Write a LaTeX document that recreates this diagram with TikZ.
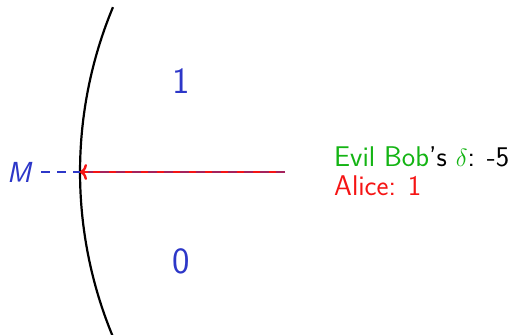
\documentclass[tikz,border=0pt]{standalone}
\usepackage{fontspec}
\usetikzlibrary{arrows.meta}
\definecolor{myblue}{RGB}{45,55,200}
\definecolor{mygreen}{RGB}{20,180,20}
\definecolor{myred}{RGB}{245,20,20}
\begin{document}
\begin{tikzpicture}[x=1pt,y=-1pt,
  lbl/.style={font=\fontsize{28.5}{32}\selectfont\sffamily, inner sep=0pt},
  big/.style={font=\fontsize{37}{42}\selectfont\sffamily, text=myblue, inner sep=0pt}]
\useasboundingbox (0,0) rectangle (510,334);
\coordinate (C) at (509,172);
\coordinate (hit) at (80,172);
\coordinate (src) at (285,172);
\draw[line width=2.2pt, black] (C) ++(157.4:429) arc[start angle=157.4, end angle=202.6, radius=429];
\node[lbl, text=myblue, font=\fontsize{29}{32}\selectfont\sffamily\itshape] (M) at (19,172) {M};
\draw[myblue, line width=2.2pt, dash pattern=on 9pt off 7pt] (M.east) ++(10,0) -- (hit);
\draw[myred, line width=2.7pt, -{To[length=7pt,width=16pt,line width=2.4pt]}] (src) -- (hit);
\draw[myblue, opacity=0.4, line width=1.5pt, dash pattern=on 9pt off 7pt] (src) -- ([xshift=8pt]hit);
\node[big] (one) at (181,81) {1};
\node[big] (zero) at (181,261) {0};
\node[lbl, anchor=west] (bob) at (334,157) {\textcolor{mygreen}{Evil Bob}'s \textcolor{mygreen}{$\delta$}: -5};
\node[lbl, anchor=west, text=myred] (alice) at (334,186) {Alice: 1};
\end{tikzpicture}
\end{document}
